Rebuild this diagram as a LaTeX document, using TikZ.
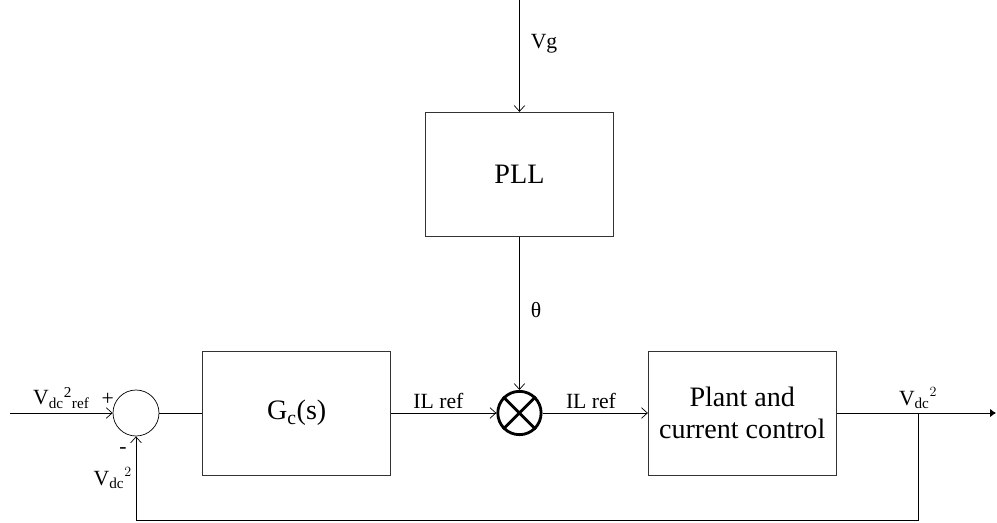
\documentclass[tikz,border=0pt]{standalone}
\usepackage{fontspec}
\setmainfont{Liberation Serif}
\usetikzlibrary{positioning,arrows.meta}
\tikzset{
  blockbox/.style={draw=black!80, line width=0.6pt, minimum width=5.64cm, minimum height=3.72cm,
              align=center, inner sep=0pt, font=\fontsize{24}{27}\selectfont},
  sumnode/.style={circle, draw, line width=0.6pt, minimum size=1.38cm, inner sep=0pt},
  mulnode/.style={circle, draw, line width=2.4pt, minimum size=1.3cm, inner sep=0pt},
  lbl/.style={font=\fontsize{18.5}{22}\selectfont},
  >={Straight Barb[length=5pt,width=9pt]},
}
\begin{document}
\begin{tikzpicture}[node distance=1cm, line width=0.6pt]
\useasboundingbox (0,0) rectangle (29.91,-15.66);
\node[sumnode] (sum) at (4.08,-12.39) {};
\node[blockbox, right=1.29cm of sum] (gc) {G\textsubscript{c}(s)};
\node[mulnode, right=3.16cm of gc] (mul) {};
\node[blockbox, right=3.16cm of mul] (plant) {Plant and\\current control};
\node[blockbox, above=4.6cm of mul] (pll) {PLL};
\coordinate (in) at (0.3,-12.39);
\coordinate[above=3.39cm of pll] (vg);
\coordinate (br) at (27.54,-12.39);
\coordinate (out) at (29.88,-12.39);
\coordinate (fb) at (27.54,-15.6);

% multiplier cross
\draw[line width=2.4pt] (mul.north west) -- (mul.south east)
  (mul.north east) -- (mul.south west);

\draw[->] (in) -- node[above, lbl]{$\mathrm{V_{dc}{}^{2}{}_{ref}}$} (sum);
\node[lbl] (plus) at ([shift={(-0.15,0.42)}]sum.west) {+};
\node[lbl] (minus) at ([shift={(-0.39,-0.42)}]sum.south) {-};
\draw (sum) -- (gc);
\draw[->] (gc) -- node[above, lbl, pos=0.45]{IL ref} (mul);
\draw[->] (mul) -- node[above, lbl, pos=0.46]{IL ref} (plant);
\draw[->] (vg) -- node[right, lbl, pos=0.4, xshift=6pt]{Vg} (pll);
\draw[->] (pll) -- node[right, lbl, pos=0.48, xshift=6pt]{θ} (mul);
\draw[-{Latex[length=5pt,width=7pt]}] (plant) -- (out);
\node[lbl, above=0pt of br] (vdcout) {$\mathrm{V_{dc}}^{2}$};
\draw[->] (br) -- (fb) -| node[left, lbl, pos=0.75]{$\mathrm{V_{dc}}^{2}$} (sum);
\end{tikzpicture}
\end{document}
